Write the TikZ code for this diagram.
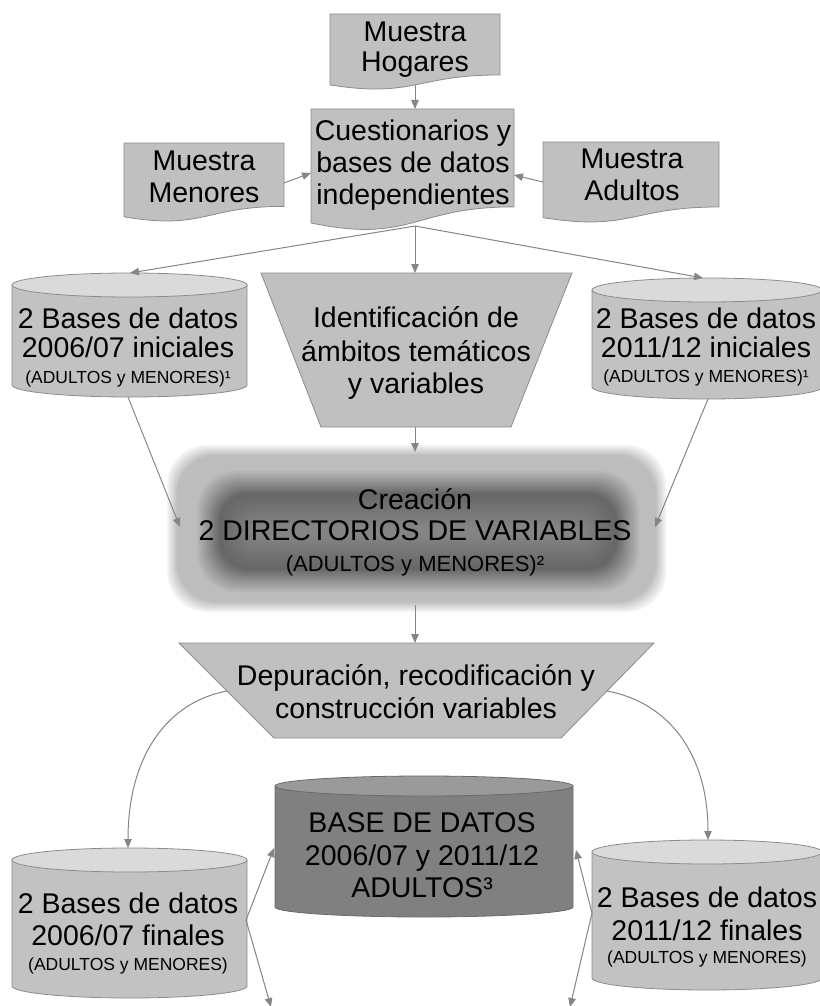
\documentclass[tikz,border=0pt]{standalone}
\usepackage{fontspec}
\setmainfont{Liberation Sans}
\usetikzlibrary{arrows.meta}
\definecolor{lightg}{HTML}{C0C0C0}
\definecolor{cylbodyc}{HTML}{C2C2C2}
\definecolor{cyltopc}{HTML}{DADADA}
\definecolor{outl}{HTML}{8C8C8C}
\definecolor{darkbody}{HTML}{808080}
\definecolor{darktop}{HTML}{9A9A9A}
\definecolor{darkoutl}{HTML}{6A6A6A}
\definecolor{arrowc}{HTML}{858585}
\newcommand\docshape[4]{%
  \filldraw[shapebox] (#1,#2) -- (#3,#2) -- (#3,{#2+0.802*#4})
    .. controls ({(#1+#3)/2},{#2+0.802*#4}) and ({(#1+#3)/2},{#2+1.107*#4}) ..
    (#1,{#2+0.934*#4}) -- cycle;}
\newcommand\cylshape[7]{%
  \pgfmathsetmacro\cxc{(#1+#2)/2}%
  \pgfmathsetmacro\crx{(#2-#1)/2}%
  \filldraw[#6] (#1,#3) -- (#1,#4)
    .. controls (#1,{#4+0.5523*#5}) and ({\cxc-0.5523*\crx},{#4+#5}) .. (\cxc,{#4+#5})
    .. controls ({\cxc+0.5523*\crx},{#4+#5}) and (#2,{#4+0.5523*#5}) .. (#2,#4)
    -- (#2,#3) -- cycle;
  \filldraw[#7] (\cxc,#3) ellipse [x radius=\crx, y radius=#5];}
\tikzset{
  shapebox/.style={fill=lightg, draw=outl, line width=0.8pt},
  lcylbody/.style={fill=cylbodyc, draw=outl, line width=0.8pt},
  lcyltop/.style={fill=cyltopc, draw=outl, line width=0.8pt},
  dcylbody/.style={fill=darkbody, draw=darkoutl, line width=0.8pt},
  dcyltop/.style={fill=darktop, draw=darkoutl, line width=0.8pt},
  txt/.style={inner sep=0pt, anchor=base, font=\fontsize{28.5}{33}\selectfont},
  smalltxt/.style={inner sep=0pt, anchor=base, font=\fontsize{17.5}{20}\selectfont},
  midtxt/.style={inner sep=0pt, anchor=base, font=\fontsize{22}{26}\selectfont},
  conn/.style={draw=arrowc, line width=1pt, -{Triangle[length=9pt,width=7.5pt]}},
}
\begin{document}
\begin{tikzpicture}[x=1pt,y=-1pt]
\useasboundingbox (0,0) rectangle (819,1006);
\fill[white] (0,0) rectangle (819,1006);

% ---- named connection points
\coordinate (hogB) at (415,85);
\coordinate (cuestT) at (415,109);
\coordinate (cuestB) at (415,226);
\coordinate (cuestL) at (311,173);
\coordinate (cuestR) at (514,175);
\coordinate (menR) at (284,183);
\coordinate (adL) at (543,182);
\coordinate (lcylT) at (130,273);
\coordinate (lcylB) at (128,397);
\coordinate (identT) at (415,273);
\coordinate (identB) at (415,427);
\coordinate (rcylT) at (703,278);
\coordinate (rcylB) at (708,399);
\coordinate (creaT) at (415,452);
\coordinate (creaL) at (180,527);
\coordinate (creaR) at (655,527);
\coordinate (creaB) at (415,605);
\coordinate (depT) at (415,643);
\coordinate (depL) at (227,691);
\coordinate (depR) at (607,691);
\coordinate (lfinT) at (128,848);
\coordinate (rfinT) at (708,840);
\coordinate (lfinR) at (246,920);
\coordinate (rfinL) at (592,913);
\coordinate (baseL) at (274,848);
\coordinate (baseR) at (576,850);
\coordinate (offL) at (271,1007);
\coordinate (offR) at (570,1007);

% ---- cylinders row 2
\cylshape{12}{247}{285}{385}{12}{lcylbody}{lcyltop}
\cylshape{592}{822}{290}{387}{12}{lcylbody}{lcyltop}
% ---- trapezoid Identificacion
\filldraw[shapebox] (261,273) -- (572,273) -- (511,427) -- (321,427) -- cycle;

% ---- Creacion glow box: soft outer panel
\foreach \d in {0,1,...,10}{
  \pgfmathsetmacro\p{4+2.2*\d}
  \fill[black!\p, rounded corners=40pt] ({167+\d},{445+\d}) rectangle ({666-\d},{612-\d});
}
% ---- Creacion glow box: blurred dark core
\foreach \e in {-14,-12,...,44}{
  \pgfmathsetmacro\p{ifthenelse(\e<=10, 26+(\e+14)*1.4, 60-(\e-10)*0.35)}
  \pgfmathsetmacro\r{max(1,min(34-0.5*\e, (97-2*\e)/2-0.3))}
  \fill[black!\p, rounded corners=\r pt] ({209+\e},{483+\e}) rectangle ({627-\e},{580-\e});
}

% ---- trapezoid Depuracion
\filldraw[shapebox] (179,643) -- (654,643) -- (561,738) -- (274,738) -- cycle;

% ---- bottom cylinders
\cylshape{275}{573}{786}{907}{10}{dcylbody}{dcyltop}
\cylshape{12}{247}{860}{986}{12}{lcylbody}{lcyltop}
\cylshape{592}{822}{852}{978}{12}{lcylbody}{lcyltop}

% ---- side documents
\docshape{124}{143}{284}{79}
\docshape{543}{142}{719}{81}

% ---- fan connectors (start hidden under Cuestionarios)
\draw[conn] (cuestB) -- (lcylT);
\draw[conn] (cuestB) -- (identT);
\draw[conn] (cuestB) -- (rcylT);

% ---- top documents
\docshape{311}{109}{514}{122}
\docshape{330}{14}{500}{76}

% ---- other connectors
\draw[conn] (hogB) -- (cuestT);
\draw[conn] (menR) -- (cuestL);
\draw[conn] (adL) -- (cuestR);
\draw[conn] (identB) -- (creaT);
\draw[conn] (lcylB) -- (creaL);
\draw[conn] (rcylB) -- (creaR);
\draw[conn] (creaB) -- (depT);
\draw[conn] (depL) .. controls (168,702) and (128,755) .. (lfinT);
\draw[conn] (depR) .. controls (667,702) and (708,752) .. (rfinT);
\draw[conn] (lfinR) -- (baseL);
\draw[conn] (lfinR) -- (offL);
\draw[conn] (rfinL) -- (baseR);
\draw[conn] (rfinL) -- (offR);

% ---- texts
\node[txt] (hog1) at (415,42) {Muestra};
\node[txt] (hog2) at (415,72) {Hogares};
\node[txt] (cue1) at (413,140) {Cuestionarios y};
\node[txt] (cue2) at (413,172) {bases de datos};
\node[txt] (cue3) at (413,204) {independientes};
\node[txt] (men1) at (204,170) {Muestra};
\node[txt] (men2) at (204,202) {Menores};
\node[txt] (adu1) at (632,168) {Muestra};
\node[txt] (adu2) at (632,200) {Adultos};
\node[txt] (li1) at (128,328) {2 Bases de datos};
\node[txt] (li2) at (128,357) {2006/07 iniciales};
\node[smalltxt] (li3) at (128,383) {(ADULTOS y MENORES)¹};
\node[txt] (id1) at (416,327) {Identificación de};
\node[txt] (id2) at (416,361) {ámbitos temáticos};
\node[txt] (id3) at (416,393) {y variables};
\node[txt] (ri1) at (706,328) {2 Bases de datos};
\node[txt] (ri2) at (706,357) {2011/12 iniciales};
\node[smalltxt] (ri3) at (706,382) {(ADULTOS y MENORES)¹};
\node[txt] (cr1) at (415,509) {Creación};
\node[txt] (cr2) at (415,540) {2 DIRECTORIOS DE VARIABLES};
\node[midtxt] (cr3) at (415,571) {(ADULTOS y MENORES)²};
\node[txt] (de1) at (416,685) {Depuración, recodificación y};
\node[txt] (de2) at (416,718) {construcción variables};
\node[txt] (bd1) at (422,832) {BASE DE DATOS};
\node[txt] (bd2) at (422,865) {2006/07 y 2011/12};
\node[txt] (bd3) at (422,897) {ADULTOS³};
\node[txt] (lf1) at (128,913) {2 Bases de datos};
\node[txt] (lf2) at (128,945) {2006/07 finales};
\node[smalltxt] (lf3) at (128,970) {(ADULTOS y MENORES)};
\node[txt] (rf1) at (707,907) {2 Bases de datos};
\node[txt] (rf2) at (707,940) {2011/12 finales};
\node[smalltxt] (rf3) at (707,963) {(ADULTOS y MENORES)};
\end{tikzpicture}
\end{document}
